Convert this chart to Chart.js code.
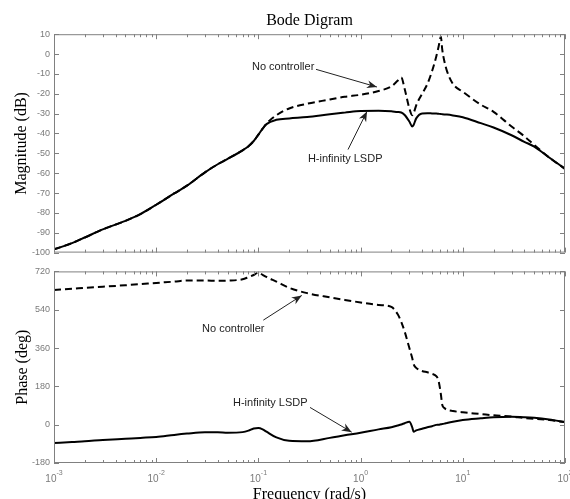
<!DOCTYPE html>
<html>
<head>
<meta charset="utf-8">
<script src="https://cdn.jsdelivr.net/npm/chart.js@4.4.1/dist/chart.umd.min.js"></script>
<style>
  html, body { margin: 0; padding: 0; background: #fff; }
  #wrap { position: relative; width: 570px; height: 499px; }
  #magBox { position: absolute; left: 0; top: 0; width: 570px; height: 262px; }
  #phaseBox { position: absolute; left: 0; top: 262px; width: 570px; height: 237px; }
</style>
</head>
<body>
<div id="wrap">
  <div id="magBox"><canvas id="magChart"></canvas></div>
  <div id="phaseBox"><canvas id="phaseChart"></canvas></div>
</div>
<script>
// frequency points (rad/s)
var freq = [0.001, 0.0015, 0.002, 0.003, 0.005, 0.007, 0.01, 0.015, 0.02, 0.03,
            0.04, 0.05, 0.07, 0.08, 0.09, 0.1, 0.11, 0.12, 0.15, 0.2,
            0.3, 0.5, 0.7, 1, 1.5, 2, 2.3, 2.5, 2.7, 3,
            3.2, 3.3, 3.5, 4, 4.5, 5, 5.5, 5.8, 6.1, 6.3,
            6.6, 7, 8, 10, 15, 20, 30, 40, 50, 70, 100];

// magnitude (dB)
var magNoCtrl = [-98.4, -95.2, -92.4, -88.3, -84.0, -80.6, -75.9, -70.2, -66.3, -59.6,
                 -55.5, -52.8, -48.5, -46.4, -43.8, -40.6, -37.6, -35.0, -30.8, -27.4,
                 -25.0, -22.9, -21.5, -20.5, -18.6, -16.3, -13.5, -11.8, -17.6, -27.4,
                 -30.8, -29.9, -25.8, -20.0, -15.1, -8.6, -1.2, 3.8, 8.7, 2.1,
                 -3.6, -8.6, -15.0, -19.0, -25.5, -29.1, -36.5, -41.4, -45.8, -52.1, -57.8];
var magHinf = [-98.4, -95.2, -92.4, -88.3, -84.0, -80.6, -75.9, -70.2, -66.3, -59.6,
               -55.5, -52.8, -48.5, -46.4, -43.8, -40.6, -37.6, -35.3, -33.1, -32.4,
               -31.7, -30.3, -29.5, -28.7, -28.6, -28.8, -29.2, -29.4, -30.7, -34.0,
               -36.5, -35.7, -32.4, -29.9, -29.8, -29.9, -30.0, -30.1, -30.2, -30.3,
               -30.4, -30.5, -30.9, -31.8, -34.8, -37.0, -40.9, -44.2, -46.6, -52.1, -57.8];

// phase (deg)
var phaseNoCtrl = [633, 638, 643, 648, 655, 660, 666, 672, 677, 677,
                   676, 677, 683, 693, 703, 714, 704, 694, 672, 643,
                   618, 598, 586, 574, 562, 553, 520, 483, 437, 360,
                   313, 285, 267, 252, 246, 239, 228, 205, 143, 92,
                   78, 70, 64, 58, 50, 44, 38, 31, 28, 22, 12];
var phaseHinf = [-86, -81, -78, -72, -66, -62, -58, -48, -42, -36,
                 -36, -38, -35, -28, -18, -16, -22, -33, -60, -76,
                 -78, -62, -50, -38, -22, -12, -4, 1, 7, 14,
                 -12, -33, -27, -19, -12, -7, -1, 0, 2, 3,
                 5, 8, 14, 22, 30, 35, 37, 35, 32, 24, 12];

var freqExponents = [-3, -2, -1, 0, 1, 2];

// annotation text + arrow (data units: freq, value)
var magNotes = [
  { text: "No controller", tx: 0.0865, ty: -6.7, fx: 0.366, fy: -7.7, hx: 1.445, hy: -16.6 },
  { text: "H-infinity LSDP", tx: 0.305, ty: -53.0, fx: 0.753, fy: -48.1, hx: 1.155, hy: -28.9 }
];
var phaseNotes = [
  { text: "No controller", tx: 0.0281, ty: 451, fx: 0.1117, fy: 491, hx: 0.2656, hy: 607 },
  { text: "H-infinity LSDP", tx: 0.0564, ty: 104, fx: 0.32, fy: 81, hx: 0.818, hy: -35 }
];

function pts(ys) {
  return freq.map(function (f, i) { return { x: f, y: ys[i] }; });
}

// box + inward ticks, MATLAB style
var framePlugin = {
  id: "frame",
  afterDraw: function (chart) {
    var ctx = chart.ctx, a = chart.chartArea;
    var xs = chart.scales.x, ys = chart.scales.y;
    ctx.save();
    ctx.strokeStyle = "#808080";
    ctx.lineWidth = 1;
    ctx.strokeRect(a.left + 0.5, a.top + 0.5, a.right - a.left - 1, a.bottom - a.top - 1);
    ctx.beginPath();
    for (var e = -3; e <= 2; e++) {
      for (var m = 1; m < 10; m++) {
        var v = m * Math.pow(10, e);
        if (v > 100) break;
        var px = Math.round(xs.getPixelForValue(v)) + 0.5;
        var len = m === 1 ? 5 : 3;
        ctx.moveTo(px, a.top); ctx.lineTo(px, a.top + len);
        ctx.moveTo(px, a.bottom); ctx.lineTo(px, a.bottom - len);
      }
    }
    ys.ticks.forEach(function (t) {
      var py = Math.round(ys.getPixelForValue(t.value)) + 0.5;
      ctx.moveTo(a.left, py); ctx.lineTo(a.left + 5, py);
      ctx.moveTo(a.right, py); ctx.lineTo(a.right - 5, py);
    });
    ctx.stroke();

    // annotations
    var notes = chart.options.plugins.frame.notes || [];
    notes.forEach(function (n) {
      var tx = xs.getPixelForValue(n.tx), ty = ys.getPixelForValue(n.ty);
      var fx = xs.getPixelForValue(n.fx), fy = ys.getPixelForValue(n.fy);
      var hx = xs.getPixelForValue(n.hx), hy = ys.getPixelForValue(n.hy);
      ctx.fillStyle = "#222";
      ctx.font = '11px "Liberation Sans"';
      ctx.textBaseline = "middle";
      ctx.textAlign = "left";
      ctx.fillText(n.text, tx, ty);
      ctx.strokeStyle = "#222";
      ctx.lineWidth = 1;
      ctx.beginPath();
      ctx.moveTo(fx, fy); ctx.lineTo(hx, hy);
      ctx.stroke();
      var ang = Math.atan2(hy - fy, hx - fx);
      ctx.beginPath();
      ctx.moveTo(hx, hy);
      ctx.lineTo(hx - 10 * Math.cos(ang) + 4 * Math.sin(ang), hy - 10 * Math.sin(ang) - 4 * Math.cos(ang));
      ctx.lineTo(hx - 7 * Math.cos(ang), hy - 7 * Math.sin(ang));
      ctx.lineTo(hx - 10 * Math.cos(ang) - 4 * Math.sin(ang), hy - 10 * Math.sin(ang) + 4 * Math.cos(ang));
      ctx.closePath();
      ctx.fill();
    });

    // 10^n labels under the bottom plot
    if (chart.options.plugins.frame.xLabels) {
      ctx.fillStyle = "#7a7a7a";
      ctx.textBaseline = "alphabetic";
      ctx.textAlign = "left";
      freqExponents.forEach(function (e) {
        var px = xs.getPixelForValue(Math.pow(10, e));
        ctx.font = '10px "Liberation Sans"';
        var w1 = ctx.measureText("10").width;
        ctx.font = '7px "Liberation Sans"';
        var w2 = ctx.measureText(String(e)).width;
        var x0 = px - (w1 + w2) / 2;
        ctx.font = '10px "Liberation Sans"';
        ctx.fillText("10", x0, a.bottom + 19);
        ctx.font = '7px "Liberation Sans"';
        ctx.fillText(String(e), x0 + w1, a.bottom + 12);
      });
    }
    ctx.restore();
  }
};

var tickFont = { family: "Liberation Sans", size: 9 };
var titleFont = { family: "Liberation Serif", size: 16 };

function lineSet(data, dashed) {
  return {
    data: data,
    borderColor: "#000",
    borderWidth: 2,
    borderDash: dashed ? [7, 4] : [],
    pointRadius: 0,
    fill: false,
    cubicInterpolationMode: "monotone"
  };
}

new Chart(document.getElementById("magChart"), {
  type: "line",
  data: { datasets: [lineSet(pts(magNoCtrl), true), lineSet(pts(magHinf), false)] },
  options: {
    responsive: true,
    maintainAspectRatio: false,
    animation: false,
    layout: { padding: { left: 0, right: 5, top: 0, bottom: 5 } },
    plugins: {
      legend: { display: false },
      tooltip: { enabled: false },
      title: {
        display: true, text: "Bode Digram", color: "#000", fullSize: false,
        font: { family: "Liberation Serif", size: 16, weight: "normal" },
        padding: { top: 11, bottom: 4 }
      },
      frame: { notes: magNotes, xLabels: false }
    },
    scales: {
      x: { type: "logarithmic", min: 0.001, max: 100, display: false },
      y: {
        min: -100, max: 10,
        ticks: { stepSize: 10, color: "#7a7a7a", font: tickFont, padding: 4 },
        grid: { display: false, drawTicks: false, tickLength: 0 },
        border: { display: false },
        title: { display: true, text: "Magnitude (dB)", color: "#000", font: titleFont, padding: { top: 12, bottom: 0 } },
        afterFit: function (s) { s.width = 54; }
      }
    }
  },
  plugins: [framePlugin]
});

new Chart(document.getElementById("phaseChart"), {
  type: "line",
  data: { datasets: [lineSet(pts(phaseNoCtrl), true), lineSet(pts(phaseHinf), false)] },
  options: {
    responsive: true,
    maintainAspectRatio: false,
    animation: false,
    layout: { padding: { left: 0, right: 5, top: 7, bottom: 0 } },
    plugins: {
      legend: { display: false },
      tooltip: { enabled: false },
      frame: { notes: phaseNotes, xLabels: true }
    },
    scales: {
      x: {
        type: "logarithmic", min: 0.001, max: 100,
        ticks: { display: false },
        grid: { display: false, drawTicks: false, tickLength: 0 },
        border: { display: false },
        title: {
          display: true, text: "Frequency (rad/s)", color: "#000",
          font: { family: "Liberation Serif", size: 16, lineHeight: 1 },
          padding: { top: 0, bottom: -4 }
        },
        afterFit: function (s) { s.height = 36; }
      },
      y: {
        min: -180, max: 720,
        ticks: { stepSize: 180, color: "#7a7a7a", font: tickFont, padding: 4 },
        grid: { display: false, drawTicks: false, tickLength: 0 },
        border: { display: false },
        title: { display: true, text: "Phase (deg)", color: "#000", font: titleFont, padding: { top: 13, bottom: 0 } },
        afterFit: function (s) { s.width = 54; }
      }
    }
  },
  plugins: [framePlugin]
});
</script>
</body>
</html>
